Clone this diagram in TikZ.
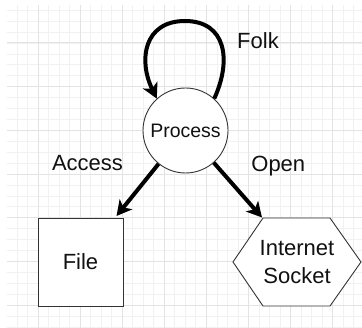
\documentclass[tikz,border=0pt]{standalone}
\usepackage{fontspec}
\setmainfont{Liberation Sans}
\usetikzlibrary{arrows.meta}
\definecolor{gridmajor}{HTML}{E3E3E3}
\definecolor{gridminor}{HTML}{F1F1F1}
\definecolor{edge}{HTML}{333333}
\definecolor{ink}{HTML}{111111}

\begin{document}
\begin{tikzpicture}[x=1pt,y=-1pt,
  lbl/.style={font=\fontsize{22}{27}\selectfont, text=ink, inner sep=0pt, anchor=base},
  shapeline/.style={draw=edge, line width=0.9pt, fill=white},
  conn/.style={line width=4pt, draw=black, -{Stealth[length=15pt,width=16pt,inset=4pt]}},
]
\useasboundingbox (0,0) rectangle (362,328);
\fill[white] (0,0) rectangle (362,328);

% background grid
\begin{scope}
  \clip (7,5) rectangle (362,328);
  \foreach \k in {-3,...,31} {
    \pgfmathsetmacro\xx{38+10.525*\k}
    \draw[gridminor, line width=0.8pt] (\xx,5) -- (\xx,328);
  }
  \foreach \k in {-3,...,26} {
    \pgfmathsetmacro\yy{43+10.925*\k}
    \draw[gridminor, line width=0.8pt] (7,\yy) -- (362,\yy);
  }
  \foreach \k in {-1,0,...,8} {
    \pgfmathsetmacro\xx{38+42.1*\k}
    \draw[gridmajor, line width=1pt] (\xx,5) -- (\xx,328);
  }
  \foreach \k in {-1,0,...,7} {
    \pgfmathsetmacro\yy{43+43.7*\k}
    \draw[gridmajor, line width=1pt] (7,\yy) -- (362,\yy);
  }
\end{scope}

% shapes
\node[circle, shapeline, minimum size=85pt, inner sep=0pt, text=ink,
      font=\fontsize{19.5}{23}\selectfont] (p) at (185.5,130.5) {Process};
\node[rectangle, shapeline, minimum width=85pt, minimum height=88pt, inner sep=0pt,
      text=ink, font=\fontsize{22}{27}\selectfont] (file) at (80.5,262) {File};

\coordinate (sc) at (297,262);
\draw[shapeline, shift={(sc)}] (-64,0) -- (-34,-44) -- (33,-44) -- (64,0)
  -- (33,44) -- (-34,44) -- cycle;
\node[align=center, inner sep=0pt, text=ink, font=\fontsize{22}{28}\selectfont]
  (sock) at (sc) {Internet\\Socket};

% connectors
\coordinate (fileTip) at (116.5,216);
\coordinate (sockTip) at (262,217.5);
\draw[conn] (p) -- (fileTip);
\draw[conn] (p) -- (sockTip);
\draw[conn] (p.48) .. controls (232,60) and (226,21) .. (185,21)
  .. controls (144,21) and (138,60) .. (p.132);

% labels
\node[lbl] (folk) at (258,48.3) {Folk};
\node[lbl] (access) at (87.5,170.7) {Access};
\node[lbl] (open) at (278.3,171.5) {Open};
\end{tikzpicture}
\end{document}
